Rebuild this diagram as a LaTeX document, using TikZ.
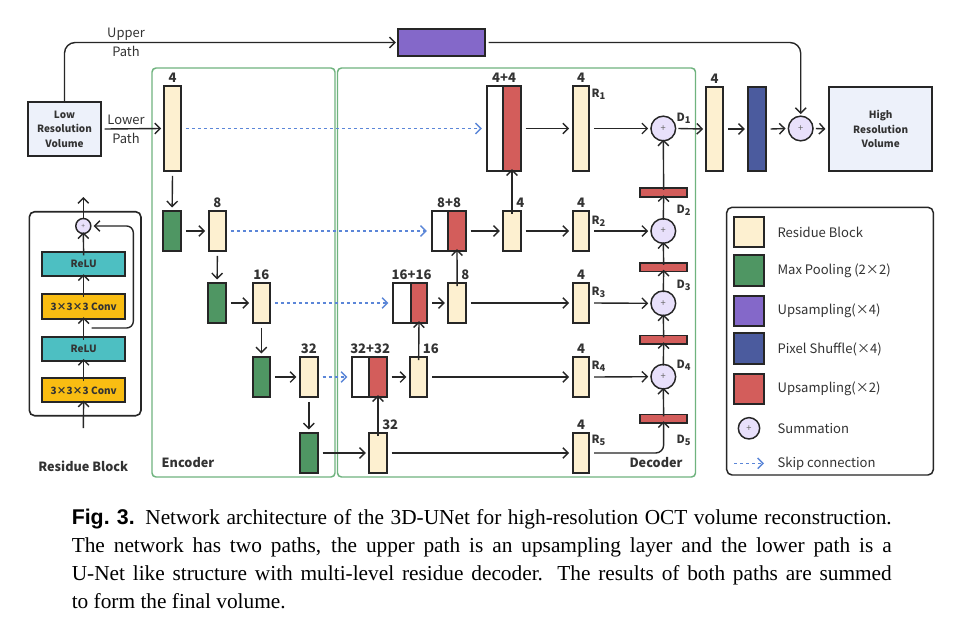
\documentclass[tikz,border=0pt]{standalone}
\usepackage{fontspec}
\setmainfont{Noto Sans CJK SC}
\newfontfamily\capserif{Liberation Serif}
\newfontfamily\capsans{Liberation Sans}
\usetikzlibrary{arrows.meta,fit}
\definecolor{resc}{HTML}{FDF0D0}
\definecolor{poolc}{HTML}{4F9663}
\definecolor{upfourc}{HTML}{8468C9}
\definecolor{psc}{HTML}{4B5B9E}
\definecolor{uptwoc}{HTML}{D35D5B}
\definecolor{sumfill}{HTML}{E8E0FB}
\definecolor{volc}{HTML}{EDF1FA}
\definecolor{framec}{HTML}{6FB37E}
\definecolor{skipblue}{HTML}{5B86D8}
\definecolor{reluc}{HTML}{4DBFC2}
\definecolor{convc}{HTML}{F9BD12}
\definecolor{inkc}{HTML}{262626}
\definecolor{txtc}{HTML}{333333}
\newcommand\sbs[1]{\raisebox{-0.35ex}{\fontsize{7}{8}\selectfont #1}}
\tikzset{
  blk/.style={draw=inkc, line width=1.3pt, inner sep=0pt},
  resb/.style={blk, fill=resc},
  poolb/.style={blk, fill=poolc},
  upfb/.style={blk, fill=upfourc},
  psb/.style={blk, fill=psc},
  uptb/.style={blk, fill=uptwoc},
  whtb/.style={blk, fill=white},
  volb/.style={blk, fill=volc},
  relub/.style={blk, fill=reluc},
  convb/.style={blk, fill=convc},
  sumc/.style={circle, draw=inkc, line width=1.1pt, fill=sumfill, inner sep=0pt, minimum size=18.5pt, font=\fontsize{7}{8}\selectfont, text=black!60},
  conn/.style={line width=1.05pt, draw=inkc, -{Straight Barb[length=4pt,width=8pt]}},
  skipc/.style={conn, draw=skipblue, dash pattern=on 2.5pt off 2pt},
  frame/.style={draw=framec, line width=1.1pt, rounded corners=3pt},
  numl/.style={font=\fontsize{9.8}{11}\selectfont\bfseries, text=txtc, inner sep=1pt},
  rl/.style={font=\fontsize{8.5}{10}\selectfont\bfseries, text=txtc, inner sep=1pt, anchor=west},
  pathl/.style={font=\fontsize{9.7}{14.2}\selectfont, text=black!80, align=center, inner sep=0pt},
  voltxt/.style={font=\fontsize{7.5}{10.9}\selectfont\bfseries, text=txtc, align=center},
  lgt/.style={font=\fontsize{9.8}{12}\selectfont, text=txtc, anchor=west, inner sep=0pt},
  captxt/.style={font=\fontsize{16}{19}\capserif, anchor=base west, inner sep=0pt}
}
\begin{document}
\begin{tikzpicture}[x=0.75pt,y=-0.75pt]
\useasboundingbox (0,0) rectangle (970,622);
\fill[white] (0,0) rectangle (970,622);

% ---------- frames ----------
\draw[frame] (152,68) rectangle (335,477);
\draw[frame] (337.5,68) rectangle (695.5,477);
\node[font=\fontsize{9.5}{11}\selectfont\bfseries, text=txtc] (enclab) at (188,462.7) {Encoder};
\node[font=\fontsize{9.5}{11}\selectfont\bfseries, text=txtc] (declab) at (656,462.7) {Decoder};

% ---------- input / output ----------
\node[volb, fit={(28,102) (101,156)}] (low) {};
\node[voltxt] (lowt) at (low.center) {Low\\Resolution\\Volume};
\node[volb, fit={(829,87) (932.3,171)}] (high) {};
\node[voltxt] (hight) at (high.center) {High\\Resolution\\Volume};
\node[upfb, fit={(398,29.3) (485,55.7)}] (up) {};

\node[pathl] (uppl) at (126,42.5) {Upper\\Path};
\node[pathl] (lowpl) at (126,129.5) {Lower\\Path};

% ---------- encoder ----------
\node[resb, fit={(164,86) (181,171)}] (e1) {};
\node[poolb, fit={(163.3,211) (181,251)}] (p1) {};
\node[resb, fit={(208.7,211) (226,251)}] (e2) {};
\node[poolb, fit={(208.3,283) (226,323)}] (p2) {};
\node[resb, fit={(252.7,283) (270,323)}] (e3) {};
\node[poolb, fit={(252.7,357) (270,397)}] (p3) {};
\node[resb, fit={(300,357) (317.7,397)}] (e4) {};
\node[poolb, fit={(300,433) (317.7,473)}] (p4) {};

\node[numl, anchor=south] (e1l) at ([yshift=1pt]e1.north) {4};
\node[numl, anchor=south] (e2l) at ([yshift=1pt]e2.north) {8};
\node[numl, anchor=south] (e3l) at ([yshift=1pt]e3.north) {16};
\node[numl, anchor=south] (e4l) at ([yshift=1pt]e4.north) {32};

% ---------- decoder ----------
\node[resb, fit={(369.3,433) (386.7,473)}] (b) {};
\node[whtb, fit={(352.3,357) (369.3,397)}] (c4w) {};
\node[uptb, fit={(369.3,357) (386.7,397)}] (c4r) {};
\node[resb, fit={(410,357) (427.3,397)}] (u4) {};
\node[whtb, fit={(393.3,283) (410.7,323)}] (c3w) {};
\node[uptb, fit={(410.7,283) (427.3,323)}] (c3r) {};
\node[resb, fit={(448.3,283) (466,323)}] (u3) {};
\node[whtb, fit={(431.7,211) (448.3,251)}] (c2w) {};
\node[uptb, fit={(448.3,211) (465.7,251)}] (c2r) {};
\node[resb, fit={(503.3,211) (520.7,251)}] (u2) {};
\node[whtb, fit={(486.7,86) (503.3,171)}] (c1w) {};
\node[uptb, fit={(503.3,86) (520.7,171)}] (c1r) {};

\node[resb, fit={(572.7,86) (589.3,171)}] (r1) {};
\node[resb, fit={(572.7,211) (589.3,251)}] (r2) {};
\node[resb, fit={(572.7,283) (589.3,323)}] (r3) {};
\node[resb, fit={(572.7,357) (589.3,397)}] (r4) {};
\node[resb, fit={(572.7,433) (589.3,473)}] (r5) {};

\node[sumc] (s1) at (663.3,128.5) {+};
\node[sumc] (s2) at (663.3,231) {+};
\node[sumc] (s3) at (663.3,303.3) {+};
\node[sumc] (s4) at (663.3,376.7) {+};
\node[uptb, fit={(640,188) (687.3,197)}] (d2bar) {};
\node[uptb, fit={(640,263) (687.3,271.5)}] (d3bar) {};
\node[uptb, fit={(640,335.5) (687.3,344)}] (d4bar) {};
\node[uptb, fit={(640,414.5) (687.3,423)}] (d5bar) {};

% labels above concat / R blocks
\node[numl, anchor=south] (c1l) at ([yshift=1pt]c1w.north east) {4+4};
\node[numl, anchor=south] (c2l) at ([yshift=1pt]c2w.north east) {8+8};
\node[numl, anchor=south] (c3l) at ([yshift=1pt]c3w.north east) {16+16};
\node[numl, anchor=south] (c4l) at ([yshift=1pt]c4w.north east) {32+32};
\node[numl, anchor=south] (r1l) at ([yshift=1pt]r1.north) {4};
\node[numl, anchor=south] (r2l) at ([yshift=1pt]r2.north) {4};
\node[numl, anchor=south] (r3l) at ([yshift=1pt]r3.north) {4};
\node[numl, anchor=south] (r4l) at ([yshift=1pt]r4.north) {4};
\node[numl, anchor=south] (r5l) at ([yshift=1pt]r5.north) {4};
\node[numl, anchor=south west] (u2l) at ([xshift=2pt,yshift=1pt]u2.north) {4};
\node[numl, anchor=south west] (u3l) at ([xshift=2pt,yshift=1pt]u3.north) {8};
\node[numl, anchor=south west] (u4l) at ([xshift=2pt,yshift=1pt]u4.north) {16};
\node[numl, anchor=south west] (bl) at ([xshift=2pt,yshift=1pt]b.north) {32};

\node[rl] (R1) at (590,94) {R\sbs{1}};
\node[rl] (R2) at (590,221) {R\sbs{2}};
\node[rl] (R3) at (590,292) {R\sbs{3}};
\node[rl] (R4) at (590,366) {R\sbs{4}};
\node[rl] (R5) at (590,440) {R\sbs{5}};
\node[rl] (D1) at (675,118.5) {D\sbs{1}};
\node[rl] (D2) at (675,210) {D\sbs{2}};
\node[rl] (D3) at (675,285) {D\sbs{3}};
\node[rl] (D4) at (675,365) {D\sbs{4}};
\node[rl] (D5) at (675,440) {D\sbs{5}};

% ---------- output stage ----------
\node[resb, fit={(706,87) (723.3,171)}] (f1) {};
\node[numl, anchor=south] (f1l) at ([yshift=1pt]f1.north) {4};
\node[psb, fit={(748.3,87) (765.7,171)}] (ps) {};
\node[sumc] (s0) at (800.7,128.5) {+};

% ---------- connectors ----------
\draw[conn, rounded corners=8pt] (low.north) |- ([xshift=-1pt]up.west);
\draw[conn, rounded corners=8pt] ([xshift=2pt]up.east) -| ([yshift=1pt]s0.north);
\draw[conn] ([xshift=2pt]low.east) -- ([xshift=-1.5pt]e1.west);

\draw[conn] ([yshift=-3pt]e1.south) -- ([yshift=2pt]p1.north);
\draw[conn] ([xshift=3pt]p1.east) -- ([xshift=-2pt]e2.west);
\draw[conn] ([yshift=-3pt]e2.south) -- ([yshift=2pt]p2.north);
\draw[conn] ([xshift=3pt]p2.east) -- ([xshift=-2pt]e3.west);
\draw[conn] ([yshift=-3pt]e3.south) -- ([yshift=2pt]p3.north);
\draw[conn] ([xshift=3pt]p3.east) -- ([xshift=-2pt]e4.west);
\draw[conn] ([yshift=-3pt]e4.south) -- ([yshift=2pt]p4.north);
\draw[conn] ([xshift=3pt]p4.east) -- ([xshift=-2pt]b.west);

\draw[skipc] ([xshift=3pt]e1.east) -- ([xshift=-3pt]c1w.west);
\draw[skipc] ([xshift=3pt]e2.east) -- ([xshift=-3pt]c2w.west);
\draw[skipc] ([xshift=3pt]e3.east) -- ([xshift=-3pt]c3w.west);
\draw[skipc] ([xshift=3pt]e4.east) -- ([xshift=-3pt]c4w.west);

\draw[conn] ([yshift=-3pt]b.north) -- ([yshift=2pt]c4r.south);
\draw[conn] ([xshift=3pt]c4r.east) -- ([xshift=-2pt]u4.west);
\draw[conn] ([yshift=-3pt]u4.north) -- ([yshift=2pt]c3r.south);
\draw[conn] ([xshift=3pt]c3r.east) -- ([xshift=-2pt]u3.west);
\draw[conn] ([yshift=-3pt]u3.north) -- ([yshift=2pt]c2r.south);
\draw[conn] ([xshift=3pt]c2r.east) -- ([xshift=-2pt]u2.west);
\draw[conn] ([yshift=-3pt]u2.north) -- ([yshift=2pt]c1r.south);
\draw[conn] ([xshift=3pt]c1r.east) -- ([xshift=-2pt]r1.west);
\draw[conn] ([xshift=3pt]u2.east) -- ([xshift=-2pt]r2.west);
\draw[conn] ([xshift=3pt]u3.east) -- ([xshift=-2pt]r3.west);
\draw[conn] ([xshift=3pt]u4.east) -- ([xshift=-2pt]r4.west);
\draw[conn] ([xshift=3pt]b.east) -- ([xshift=-2pt]r5.west);

\draw[conn] ([xshift=3pt]r1.east) -- ([xshift=-1.5pt]s1.west);
\draw[conn] ([xshift=3pt]r2.east) -- ([xshift=-1.5pt]s2.west);
\draw[conn] ([xshift=3pt]r3.east) -- ([xshift=-1.5pt]s3.west);
\draw[conn] ([xshift=3pt]r4.east) -- ([xshift=-1.5pt]s4.west);
\draw[conn, rounded corners=6pt] ([xshift=3pt]r5.east) -| ([yshift=2pt]d5bar.south);

\draw[conn] ([yshift=-2pt]d5bar.north) -- ([yshift=1.5pt]s4.south);
\draw[conn] ([yshift=-1.5pt]s4.north) -- ([yshift=2pt]d4bar.south);
\draw[conn] ([yshift=-2pt]d4bar.north) -- ([yshift=1.5pt]s3.south);
\draw[conn] ([yshift=-1.5pt]s3.north) -- ([yshift=2pt]d3bar.south);
\draw[conn] ([yshift=-2pt]d3bar.north) -- ([yshift=1.5pt]s2.south);
\draw[conn] ([yshift=-1.5pt]s2.north) -- ([yshift=2pt]d2bar.south);
\draw[conn] ([yshift=-2pt]d2bar.north) -- ([yshift=1.5pt]s1.south);

\draw[conn] ([xshift=1.5pt]s1.east) -- ([xshift=-1.5pt]f1.west);
\draw[conn] ([xshift=3pt]f1.east) -- ([xshift=-2pt]ps.west);
\draw[conn] ([xshift=3pt]ps.east) -- ([xshift=-1.5pt]s0.west);
\draw[conn] ([xshift=1.5pt]s0.east) -- ([xshift=-2pt]high.west);

% ---------- residue block detail ----------
\draw[draw=inkc, line width=1.2pt, rounded corners=4pt] (29.3,211.7) rectangle (141,415.7);
\node[sumc, minimum size=11.3pt, font=\fontsize{5}{6}\selectfont] (rs) at (83.3,226) {+};
\node[relub, fit={(42,252.3) (125.3,276)}] (relu1) {};
\node[font=\fontsize{7.5}{9}\selectfont\bfseries, text=txtc] at (relu1.center) {ReLU};
\node[convb, fit={(42,294) (125.3,319)}] (conv1) {};
\node[font=\fontsize{7.5}{9}\selectfont\bfseries, text=txtc] at (conv1.center) {3×3×3 Conv};
\node[relub, fit={(42,336.7) (125.3,360.7)}] (relu2) {};
\node[font=\fontsize{7.5}{9}\selectfont\bfseries, text=txtc] at (relu2.center) {ReLU};
\node[convb, fit={(42,378.3) (125.3,402.3)}] (conv2) {};
\node[font=\fontsize{7.5}{9}\selectfont\bfseries, text=txtc] at (conv2.center) {3×3×3 Conv};
\coordinate (rin) at (83.3,428);
\coordinate (rout) at (83.3,197);
\coordinate (rsk) at (91.7,328);
\draw[conn] (rin) -- ([yshift=2pt]conv2.south);
\draw[conn] ([yshift=-3pt]conv2.north) -- ([yshift=2pt]relu2.south);
\draw[conn] ([yshift=-3pt]relu2.north) -- ([yshift=2pt]conv1.south);
\draw[conn] ([yshift=-3pt]conv1.north) -- ([yshift=2pt]relu1.south);
\draw[conn] ([yshift=-3pt]relu1.north) -- ([yshift=1.5pt]rs.south);
\draw[conn] ([yshift=-1pt]rs.north) -- (rout);
\draw[conn, rounded corners=5pt] (rsk) -- (133.3,328) -- (133.3,226) -- ([xshift=1.5pt]rs.east);
\node[font=\fontsize{9.5}{11}\selectfont\bfseries, text=txtc] (rbl) at (83.3,466.7) {Residue Block};

% ---------- legend ----------
\draw[draw=inkc, line width=1.1pt, rounded corners=4pt] (726.7,207.3) rectangle (933.3,475);
\node[resb, fit={(734,216.7) (764,246.7)}] (lg1) {};
\node[poolb, fit={(734,255) (764,285.7)}] (lg2) {};
\node[upfb, fit={(734,296) (764,326)}] (lg3) {};
\node[psb, fit={(734,333.3) (764,364)}] (lg4) {};
\node[uptb, fit={(734,374) (764,404)}] (lg5) {};
\node[sumc, minimum size=16pt] (lg6) at (749,428.3) {+};
\coordinate (lg7a) at (734,463.3);
\coordinate (lg7b) at (764,463.3);
\draw[skipc] (lg7a) -- (lg7b);
\node[lgt] (lt1) at (777.3,232) {Residue Block};
\node[lgt] (lt2) at (777.3,270.5) {Max Pooling (2×2)};
\node[lgt] (lt3) at (777.3,311) {Upsampling(×4)};
\node[lgt] (lt4) at (777.3,349) {Pixel Shuffle(×4)};
\node[lgt] (lt5) at (777.3,389) {Upsampling(×2)};
\node[lgt] (lt6) at (777.3,428.3) {Summation};
\node[lgt] (lt7) at (777.3,463.3) {Skip connection};

% ---------- caption ----------
\node[captxt] (cap1) at (71.5,524.3) {\makebox[615pt][s]{{\capsans\bfseries Fig.~3.} Network architecture of the 3D-UNet for high-resolution OCT volume reconstruction.}};
\node[captxt] (cap2) at (71.5,552.5) {\makebox[615pt][s]{The network has two paths, the upper path is an upsampling layer and the lower path is a}};
\node[captxt] (cap3) at (71.5,580.5) {\makebox[615pt][s]{U-Net like structure with multi-level residue decoder. The results of both paths are summed}};
\node[captxt] (cap4) at (71.5,608) {to form the final volume.};
\end{tikzpicture}
\end{document}
